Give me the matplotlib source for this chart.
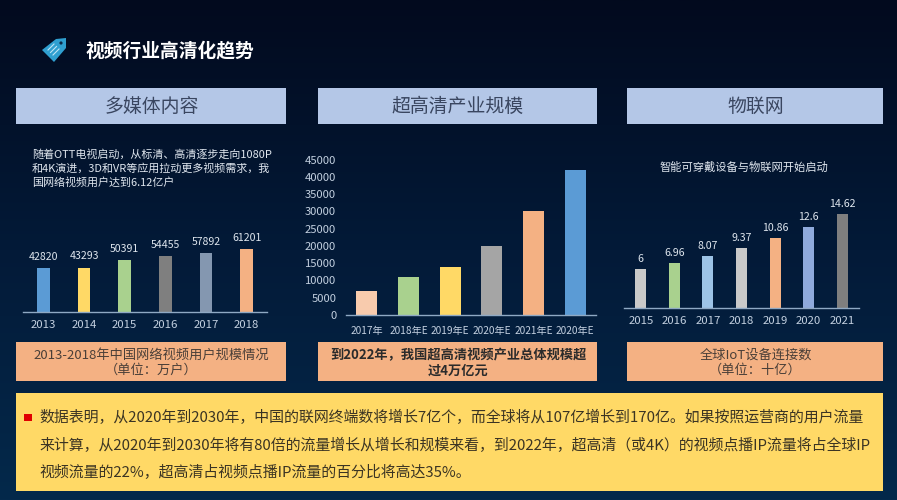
import numpy as np
import matplotlib
matplotlib.use('Agg')
import matplotlib.pyplot as plt
from matplotlib.patches import Rectangle, Polygon, Circle

plt.rcParams['font.family'] = ['Noto Sans CJK SC', 'DejaVu Sans']

W, H = 897, 500

# left chart
users_years = ['2013', '2014', '2015', '2016', '2017', '2018']
users_values = [42820, 43293, 50391, 54455, 57892, 61201]
users_colors = ['#5b9bd5', '#ffd966', '#a9d18e', '#7f7f7f', '#8497b0', '#f4b183']

# middle chart
uhd_years = ['2017年', '2018年E', '2019年E', '2020年E', '2021年E', '2020年E']
uhd_values = [7000, 11000, 14000, 20000, 30000, 42000]
uhd_colors = ['#f8cbad', '#a9d18e', '#ffd966', '#a5a5a5', '#f4b183', '#5b9bd5']
uhd_ticks = [0, 5000, 10000, 15000, 20000, 25000, 30000, 35000, 40000, 45000]

# right chart
iot_years = ['2015', '2016', '2017', '2018', '2019', '2020', '2021']
iot_values = [6, 6.96, 8.07, 9.37, 10.86, 12.6, 14.62]
iot_colors = ['#c9c9c9', '#a9d18e', '#9dc3e6', '#c9c9c9', '#f4b183', '#8faadc', '#7f7f7f']

title = '视频行业高清化趋势'
headers = ['多媒体内容', '超高清产业规模', '物联网']
captions = ['2013-2018年中国网络视频用户规模情况\n（单位：万户）',
            '到2022年，我国超高清视频产业总体规模超\n过4万亿元',
            '全球IoT设备连接数\n（单位：十亿）']
desc_left = ['随着OTT电视启动，从标清、高清逐步走向1080P',
             '和4K演进，3D和VR等应用拉动更多视频需求，我',
             '国网络视频用户达到6.12亿户']
desc_right = '智能可穿戴设备与物联网开始启动'
body = ['数据表明，从2020年到2030年，中国的联网终端数将增长7亿个，而全球将从107亿增长到170亿。如果按照运营商的用户流量',
        '来计算，从2020年到2030年将有80倍的流量增长从增长和规模来看，到2022年，超高清（或4K）的视频点播IP流量将占全球IP',
        '视频流量的22%，超高清占视频点播IP流量的百分比将高达35%。']

TICK = '#c3d0e0'
LINE = '#8fa9c4'

fig = plt.figure(figsize=(W / 100, H / 100), dpi=100)

# page layer in pixel coords, y going down
bg = fig.add_axes([0, 0, 1, 1])
bg.set_xlim(0, W)
bg.set_ylim(H, 0)
bg.axis('off')
grad = np.linspace(0, 1, 256).reshape(-1, 1)
cmap = matplotlib.colors.LinearSegmentedColormap.from_list('page', ['#020a1e', '#031a38', '#04294b'])
bg.imshow(grad, extent=[0, W, H, 0], aspect='auto', cmap=cmap)

# tag icon
bg.add_patch(Polygon([(42, 50), (56, 39), (66, 38), (66, 48), (54, 62)], closed=True, color='#2f9fd0', lw=0))
bg.add_patch(Circle((61, 43), 1.6, color='#0b2a4a', lw=0))
for i in range(3):
    bg.plot([48 + i * 2.5, 54 + i * 2.5], [50 + i * 2.5, 44 + i * 2.5], color='#bfe6f5', lw=0.8)

bg.text(86, 51, title, color='white', fontsize=13.5, fontweight='bold', va='center', ha='left')

# header boxes, caption boxes
header_x = [(16, 286), (318, 597), (627, 883)]
for (x0, x1), h, c in zip(header_x, headers, captions):
    bg.add_patch(Rectangle((x0, 88), x1 - x0, 36, color='#b4c7e7', lw=0))
    bg.text((x0 + x1) / 2 + 0.5, 106, h, color='#3a4660', fontsize=13.6, ha='center', va='center')
    bg.add_patch(Rectangle((x0, 342), x1 - x0, 39, color='#f4b183', lw=0))
    bold = c.startswith('到2022')
    bg.text((x0 + x1) / 2 + 0.5, 363, c, color='#2b2b2b' if bold else '#4a3f38', fontsize=9.5,
            fontweight='bold' if bold else 'normal', ha='center', va='center', linespacing=1.18)

# descriptions
for i, line in enumerate(desc_left):
    bg.text(32, 154 + i * 14, line, color='#dfe6ee', fontsize=7.95, ha='left', va='center')
bg.text(744, 167, desc_right, color='#dfe6ee', fontsize=8.15, ha='center', va='center')

# bottom box
bg.add_patch(Rectangle((16, 393), 867, 98, color='#ffd966', lw=0))
bg.add_patch(Rectangle((24, 414), 7.5, 7, color='#e00000', lw=0))
for i, line in enumerate(body):
    bg.text(39, 417.5 + i * 27.5, line, color='#3b3423', fontsize=10.75, ha='left', va='center')


def px_axes(x0, x1, y_top, y_base):
    ax = fig.add_axes([x0 / W, 1 - y_base / H, (x1 - x0) / W, (y_base - y_top) / H])
    ax.patch.set_alpha(0)
    for s in ['top', 'right', 'left']:
        ax.spines[s].set_visible(False)
    ax.spines['bottom'].set_color(LINE)
    ax.spines['bottom'].set_linewidth(1)
    ax.tick_params(axis='x', length=0, colors=TICK, labelsize=8.2, pad=6)
    ax.set_yticks([])
    return ax


# left
ax1 = px_axes(23, 267, 230, 312)
x = np.arange(len(users_years))
ax1.bar(x, users_values, width=0.31, color=users_colors)
ax1.set_xlim(-0.5, 5.5)
ax1.set_ylim(0, 80000)
ax1.set_xticks(x, users_years)
for xi, v in zip(x, users_values):
    ax1.text(xi, v + 6000, str(v), color='#dfe6ee', fontsize=7.6, ha='center', va='bottom')

# middle
ax2 = px_axes(346, 596, 159.5, 315)
x = np.arange(len(uhd_years))
ax2.bar(x, uhd_values, width=0.5, color=uhd_colors)
ax2.set_xlim(-0.5, 5.5)
ax2.set_ylim(0, 45000)
ax2.set_xticks(x, uhd_years)
ax2.set_yticks(uhd_ticks)
ax2.tick_params(axis='y', length=0, colors=TICK, labelsize=8.1, pad=7)
ax2.tick_params(axis='x', labelsize=7.3, pad=8)

# right
ax3 = px_axes(624, 859, 192, 308)
x = np.arange(len(iot_years))
ax3.bar(x, iot_values, width=0.33, color=iot_colors)
ax3.set_xlim(-0.5, 6.5)
ax3.set_ylim(0, 18)
ax3.set_xticks(x, iot_years)
for xi, v in zip(x, iot_values):
    ax3.text(xi, v + 0.75, str(v), color='#dfe6ee', fontsize=7.6, ha='center', va='bottom')

fig.savefig('out.png', dpi=100)
